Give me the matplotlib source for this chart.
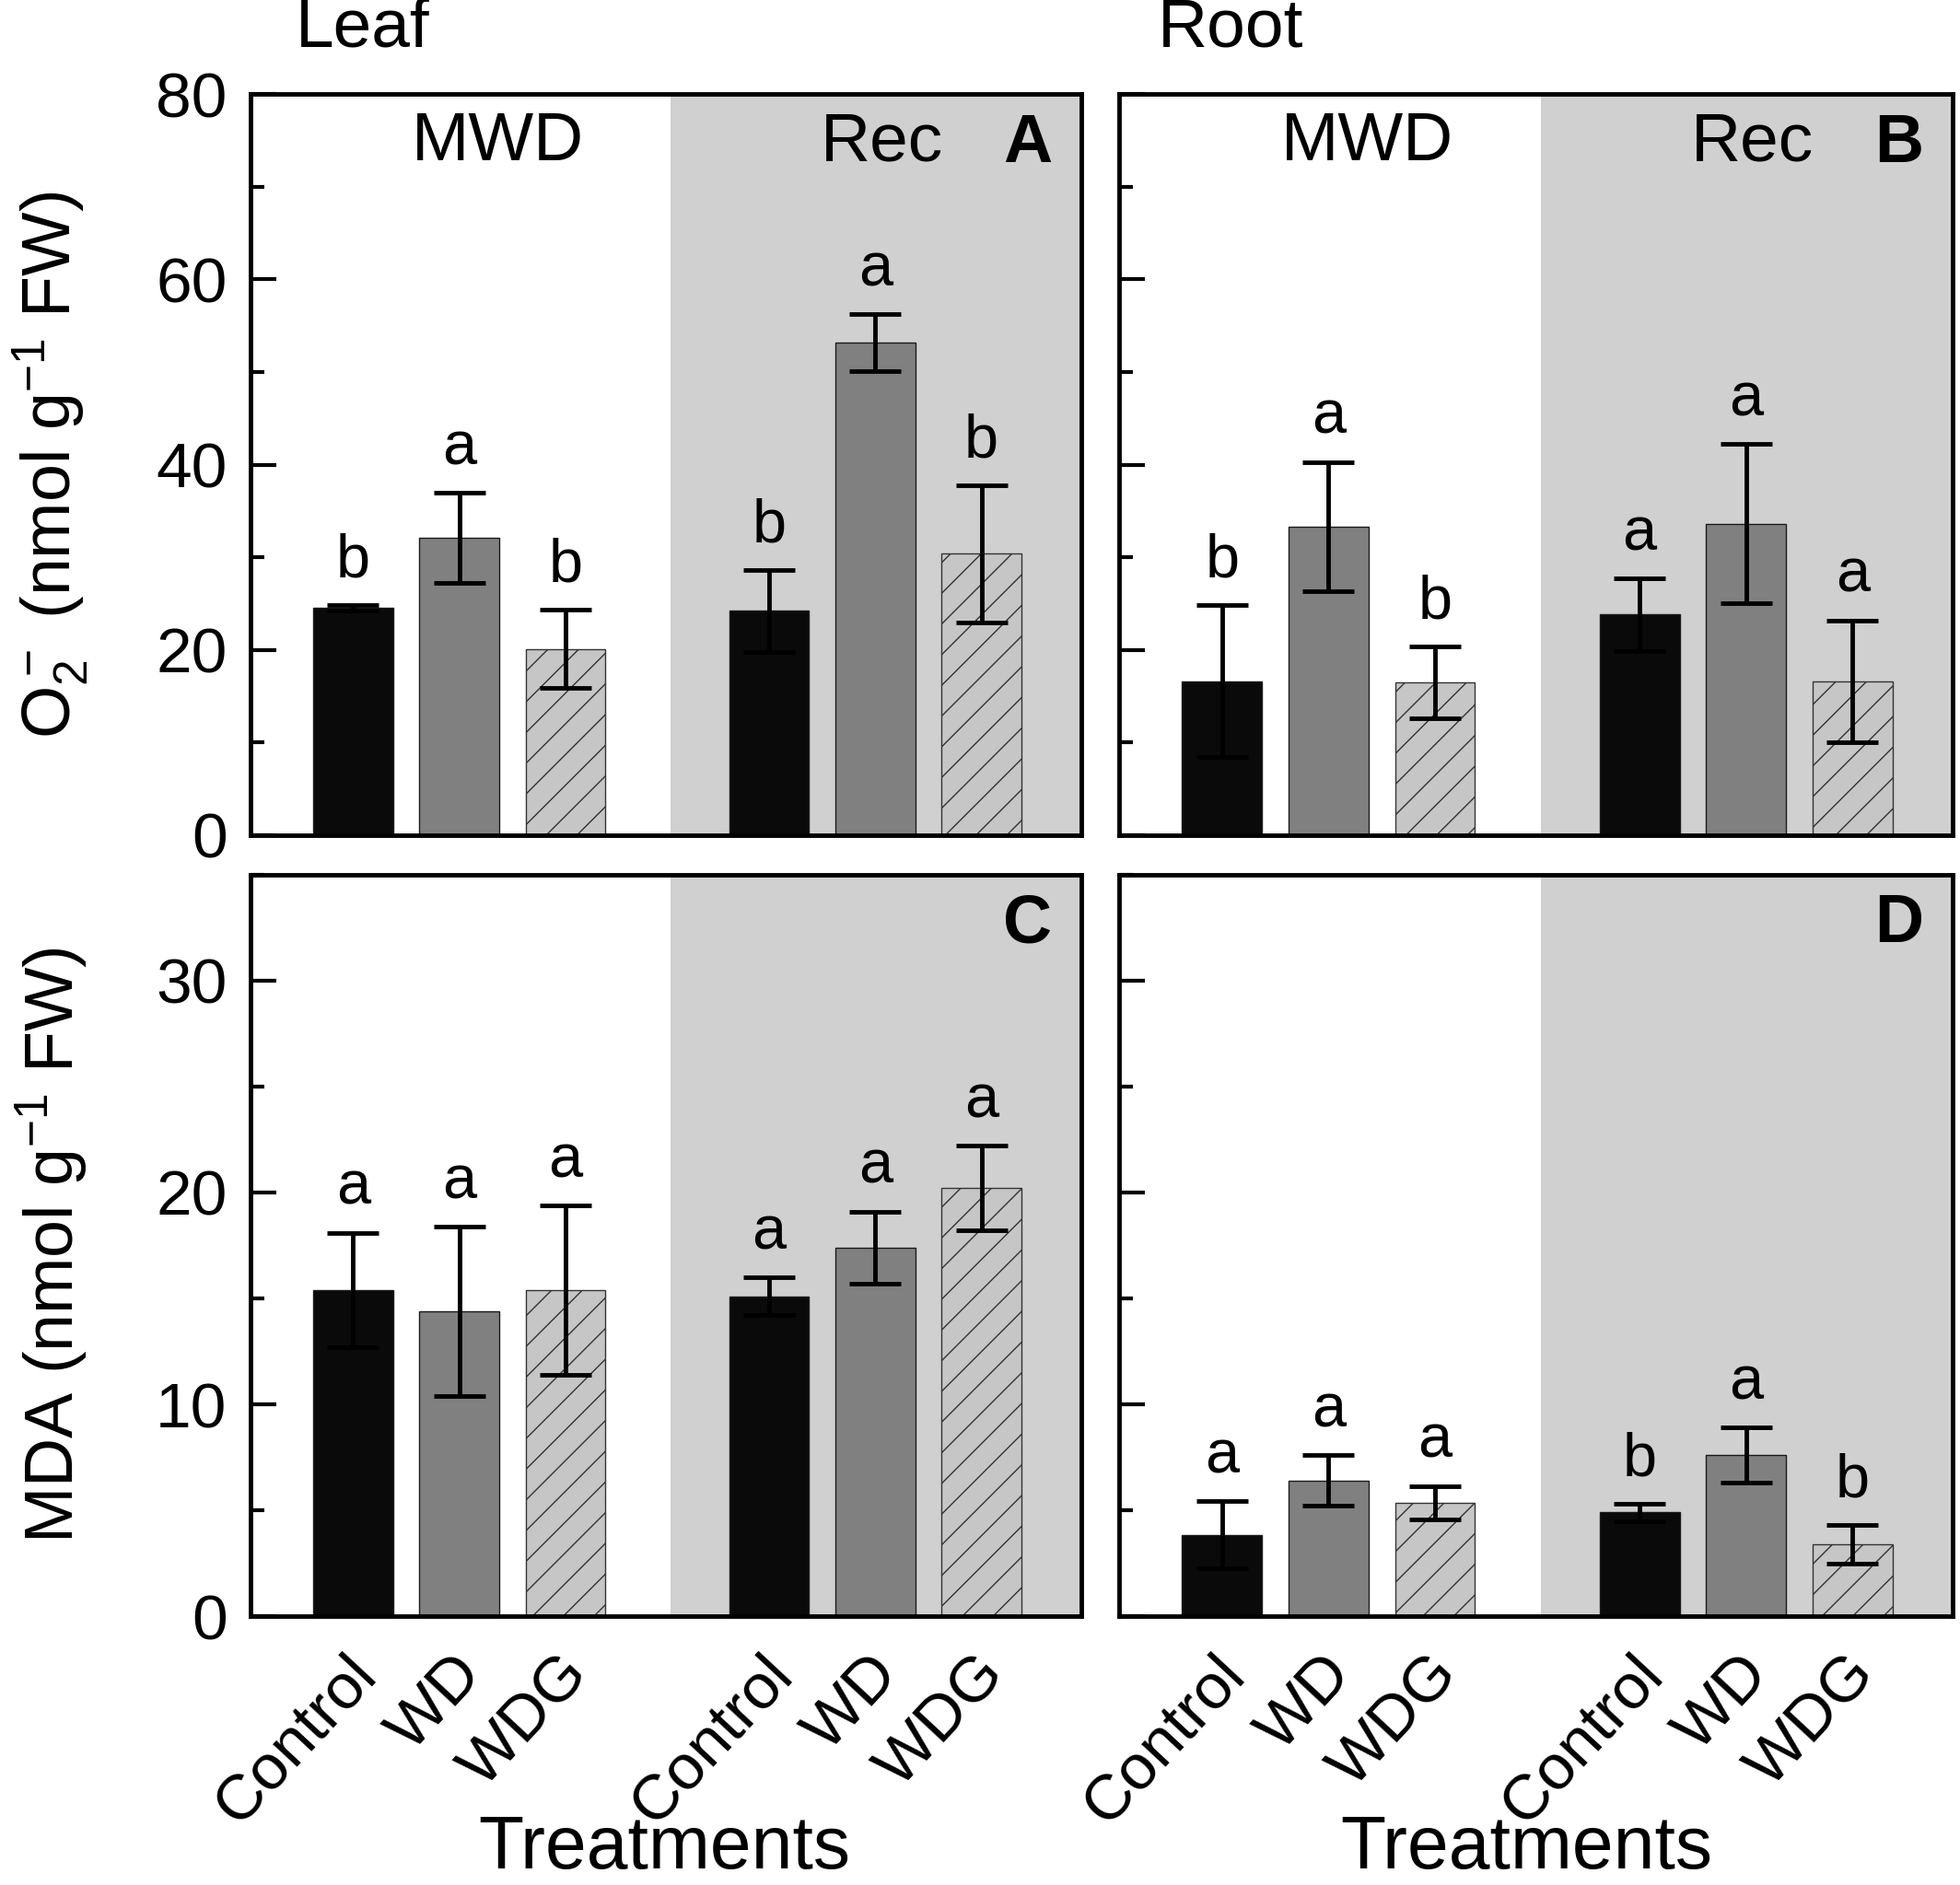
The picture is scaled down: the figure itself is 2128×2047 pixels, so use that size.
import numpy as np
import matplotlib
matplotlib.use('Agg')
import matplotlib.pyplot as plt
from matplotlib.ticker import MultipleLocator

plt.rcParams['font.family'] = ['Liberation Sans', 'DejaVu Sans']
plt.rcParams['mathtext.default'] = 'regular'
plt.rcParams['hatch.linewidth'] = 1.0

# bar order: MWD Control, WD, WDG | Rec Control, WD, WDG
treatments = ['Control', 'WD', 'WDG']
phases = ['MWD', 'Rec']

o2_leaf = [24.5, 32.1, 20.1, 24.2, 53.2, 30.4]
o2_leaf_err = [0.3, 4.9, 4.2, 4.4, 3.1, 7.4]
o2_leaf_sig = ['b', 'a', 'b', 'b', 'a', 'b']

o2_root = [16.6, 33.3, 16.5, 23.8, 33.6, 16.6]
o2_root_err = [8.2, 7.0, 3.9, 3.9, 8.6, 6.6]
o2_root_sig = ['b', 'a', 'b', 'a', 'a', 'a']

mda_leaf = [15.4, 14.4, 15.4, 15.1, 17.4, 20.2]
mda_leaf_err = [2.7, 4.0, 4.0, 0.9, 1.7, 2.0]
mda_leaf_sig = ['a', 'a', 'a', 'a', 'a', 'a']

mda_root = [3.85, 6.4, 5.35, 4.9, 7.6, 3.4]
mda_root_err = [1.6, 1.2, 0.8, 0.4, 1.3, 0.9]
mda_root_sig = ['a', 'a', 'a', 'b', 'a', 'b']

bar_colors = ['#0a0a0a', '#808080', '#c6c6c6']
bar_hatch = [None, None, '/']
shade = '#d0d0d0'

x = np.concatenate([np.arange(3), np.arange(3) + 3.92])

fig = plt.figure(figsize=(21.28, 20.47), dpi=100)

boxes = {
    'A': [0.1276, 0.557, 0.4241, 0.393],
    'B': [0.5708, 0.557, 0.4255, 0.393],
    'C': [0.1276, 0.1426, 0.4241, 0.3934],
    'D': [0.5708, 0.1426, 0.4255, 0.3934],
}


def panel(key, vals, errs, sig, ymax, major, top=False, left=False):
    ax = fig.add_axes(boxes[key])
    ax.axvspan(2.99, 7.5, color=shade, lw=0, zorder=0)
    for i in range(6):
        j = i % 3
        ax.bar(x[i], vals[i], width=0.75, color=bar_colors[j],
               edgecolor='#1a1a1a' if j < 2 else '#333333',
               hatch=bar_hatch[j], linewidth=1.0, zorder=2)
    ax.errorbar(x, vals, yerr=errs, fmt='none', ecolor='black',
                elinewidth=3.5, capsize=20, capthick=3.5, zorder=3)
    for i in range(6):
        ax.annotate(sig[i], (x[i], vals[i] + errs[i]), xytext=(0, 12),
                    textcoords='offset points', ha='center', va='bottom',
                    fontsize=48)
    ax.set_xlim(-0.97, 6.86)
    ax.set_ylim(0, ymax)
    ax.yaxis.set_major_locator(MultipleLocator(major))
    ax.yaxis.set_minor_locator(MultipleLocator(major / 2))
    ax.tick_params(axis='y', which='major', direction='in', length=20,
                   width=3, labelsize=50, pad=18, labelleft=left)
    ax.tick_params(axis='y', which='minor', direction='in', length=11,
                   width=3)
    ax.set_xticks([])
    for s in ax.spines.values():
        s.set_linewidth(3.5)
    if top:
        ax.text(0.298, 0.935, phases[0], transform=ax.transAxes,
                ha='center', va='center', fontsize=54)
        ax.text(0.76, 0.935, phases[1], transform=ax.transAxes,
                ha='center', va='center', fontsize=54)
    else:
        for i in range(6):
            ax.annotate(treatments[i % 3], (x[i], 0),
                        xycoords=('data', 'axes fraction'),
                        xytext=(27, -22), textcoords='offset points',
                        rotation=47, ha='right', va='top', fontsize=50)
    ax.text(0.935, 0.933, key, transform=ax.transAxes, ha='center',
            va='center', fontsize=53, fontweight='bold')
    return ax


panel('A', o2_leaf, o2_leaf_err, o2_leaf_sig, 80, 20, top=True, left=True)
panel('B', o2_root, o2_root_err, o2_root_sig, 80, 20, top=True)
panel('C', mda_leaf, mda_leaf_err, mda_leaf_sig, 35, 10, left=True)
panel('D', mda_root, mda_root_err, mda_root_sig, 35, 10)

fig.text(0.185, 0.985, 'Leaf', ha='center', va='center', fontsize=54)
fig.text(0.628, 0.985, 'Root', ha='center', va='center', fontsize=54)
fig.text(0.026, 0.7535, 'O$_2^-$ (nmol g$^{-1}$ FW)', rotation=90,
         ha='center', va='center', fontsize=53)
fig.text(0.026, 0.3393, 'MDA (nmol g$^{-1}$ FW)', rotation=90,
         ha='center', va='center', fontsize=53)
fig.text(0.339, 0.009, 'Treatments', ha='center', va='baseline', fontsize=58)
fig.text(0.779, 0.009, 'Treatments', ha='center', va='baseline', fontsize=58)

fig.savefig('out.png', dpi=100)
